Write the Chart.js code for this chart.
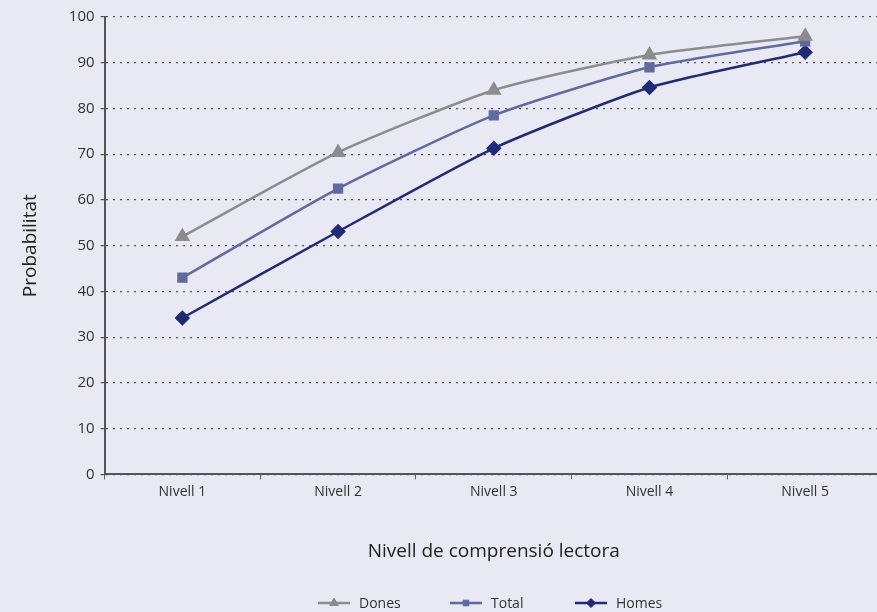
<!DOCTYPE html>
<html>
<head>
<meta charset="utf-8">
<script src="https://cdn.jsdelivr.net/npm/chart.js@4/dist/chart.umd.min.js"></script>
<style>
html,body{margin:0;padding:0;background:#e8e9f2;overflow:hidden;}
#wrap{width:877px;height:612px;position:relative;overflow:hidden;}
</style>
</head>
<body>
<div id="wrap"><canvas id="c" width="892" height="612"></canvas></div>
<script>
const categories = ["Nivell 1","Nivell 2","Nivell 3","Nivell 4","Nivell 5"];
const dones = [52.0, 70.4, 84.0, 91.7, 95.8];
const total = [43.0, 62.5, 78.5, 89.0, 94.7];
const homes = [34.2, 53.1, 71.3, 84.6, 92.3];
const seriesNames = ["Dones","Total","Homes"];
const yTicks = [0,10,20,30,40,50,60,70,80,90,100];

const FONT = "'Open Sans', 'Noto Sans', sans-serif";
const colors = ["#8c8c8c", "#5f6aa0", "#1f2a78"];
const styles = ["triangle", "rect", "rectRot"];
const radii = [6.5, 5.5, 6];

const legendPlugin = {
  id: 'customLegend',
  afterDraw(chart) {
    const ctx = chart.ctx;
    const y = 603;
    const starts = [318, 450, 575];
    ctx.save();
    chart.data.datasets.forEach((ds, i) => {
      const x0 = starts[i];
      ctx.strokeStyle = ds.borderColor;
      ctx.lineWidth = 2.5;
      ctx.beginPath();
      ctx.moveTo(x0, y);
      ctx.lineTo(x0 + 32, y);
      ctx.stroke();
      ctx.fillStyle = ds.borderColor;
      ctx.lineWidth = 1;
      Chart.helpers.drawPoint(ctx, {pointStyle: ds.pointStyle, radius: ds.pointRadius - 1.5, borderWidth: 1}, x0 + 16, y);
      ctx.fillStyle = '#333';
      ctx.font = "14px " + FONT;
      ctx.textBaseline = 'middle';
      ctx.textAlign = 'left';
      ctx.fillText(ds.label, x0 + 41, y + 1);
    });
    ctx.restore();
  }
};

const bgPlugin = {
  id: 'bg',
  beforeDraw(chart){
    const ctx = chart.ctx;
    ctx.save();
    ctx.fillStyle = '#e8e9f2';
    ctx.fillRect(0,0,chart.width,chart.height);
    ctx.restore();
  }
};

const dataArrays = [dones, total, homes];
new Chart(document.getElementById('c'), {
  type: 'line',
  data: {
    labels: categories,
    datasets: seriesNames.map((n, i) => ({
      label: n,
      data: dataArrays[i],
      borderColor: colors[i],
      backgroundColor: colors[i],
      pointBackgroundColor: colors[i],
      pointBorderColor: colors[i],
      borderWidth: 2.5,
      pointStyle: styles[i],
      pointRadius: radii[i],
      pointHoverRadius: radii[i],
      tension: 0.2,
      fill: false
    }))
  },
  options: {
    responsive: false,
    animation: false,
    devicePixelRatio: 1,
    layout: { padding: { top: 17, right: 0, bottom: 49, left: 19 } },
    plugins: {
      legend: { display: false },
      tooltip: { enabled: false }
    },
    scales: {
      x: {
        offset: true,
        grid: { display: true, drawOnChartArea: false, drawTicks: true, tickLength: 5, color: '#666', offset: true },
        border: { display: true, color: '#555', width: 2 },
        ticks: { color: '#333', font: { family: FONT, size: 14 }, padding: 4 },
        title: { display: true, text: 'Nivell de comprensió lectora', color: '#222', font: { family: FONT, size: 19 }, padding: { top: 36, bottom: 0 } }
      },
      y: {
        min: 0, max: 100,
        afterBuildTicks(scale){ scale.ticks = yTicks.map(v => ({value: v})); },
        grid: { color: '#555', lineWidth: 1.2, drawTicks: true, tickLength: 4, tickColor: '#555', tickBorderDash: [] },
        border: { display: true, color: '#555', width: 2, dash: [2, 5] },
        ticks: { color: '#333', font: { family: FONT, size: 15 }, padding: 6 },
        title: { display: true, text: 'Probabilitat', color: '#222', font: { family: FONT, size: 19 }, padding: { top: 0, bottom: 21 } }
      }
    }
  },
  plugins: [bgPlugin, legendPlugin]
});
</script>
</body>
</html>
